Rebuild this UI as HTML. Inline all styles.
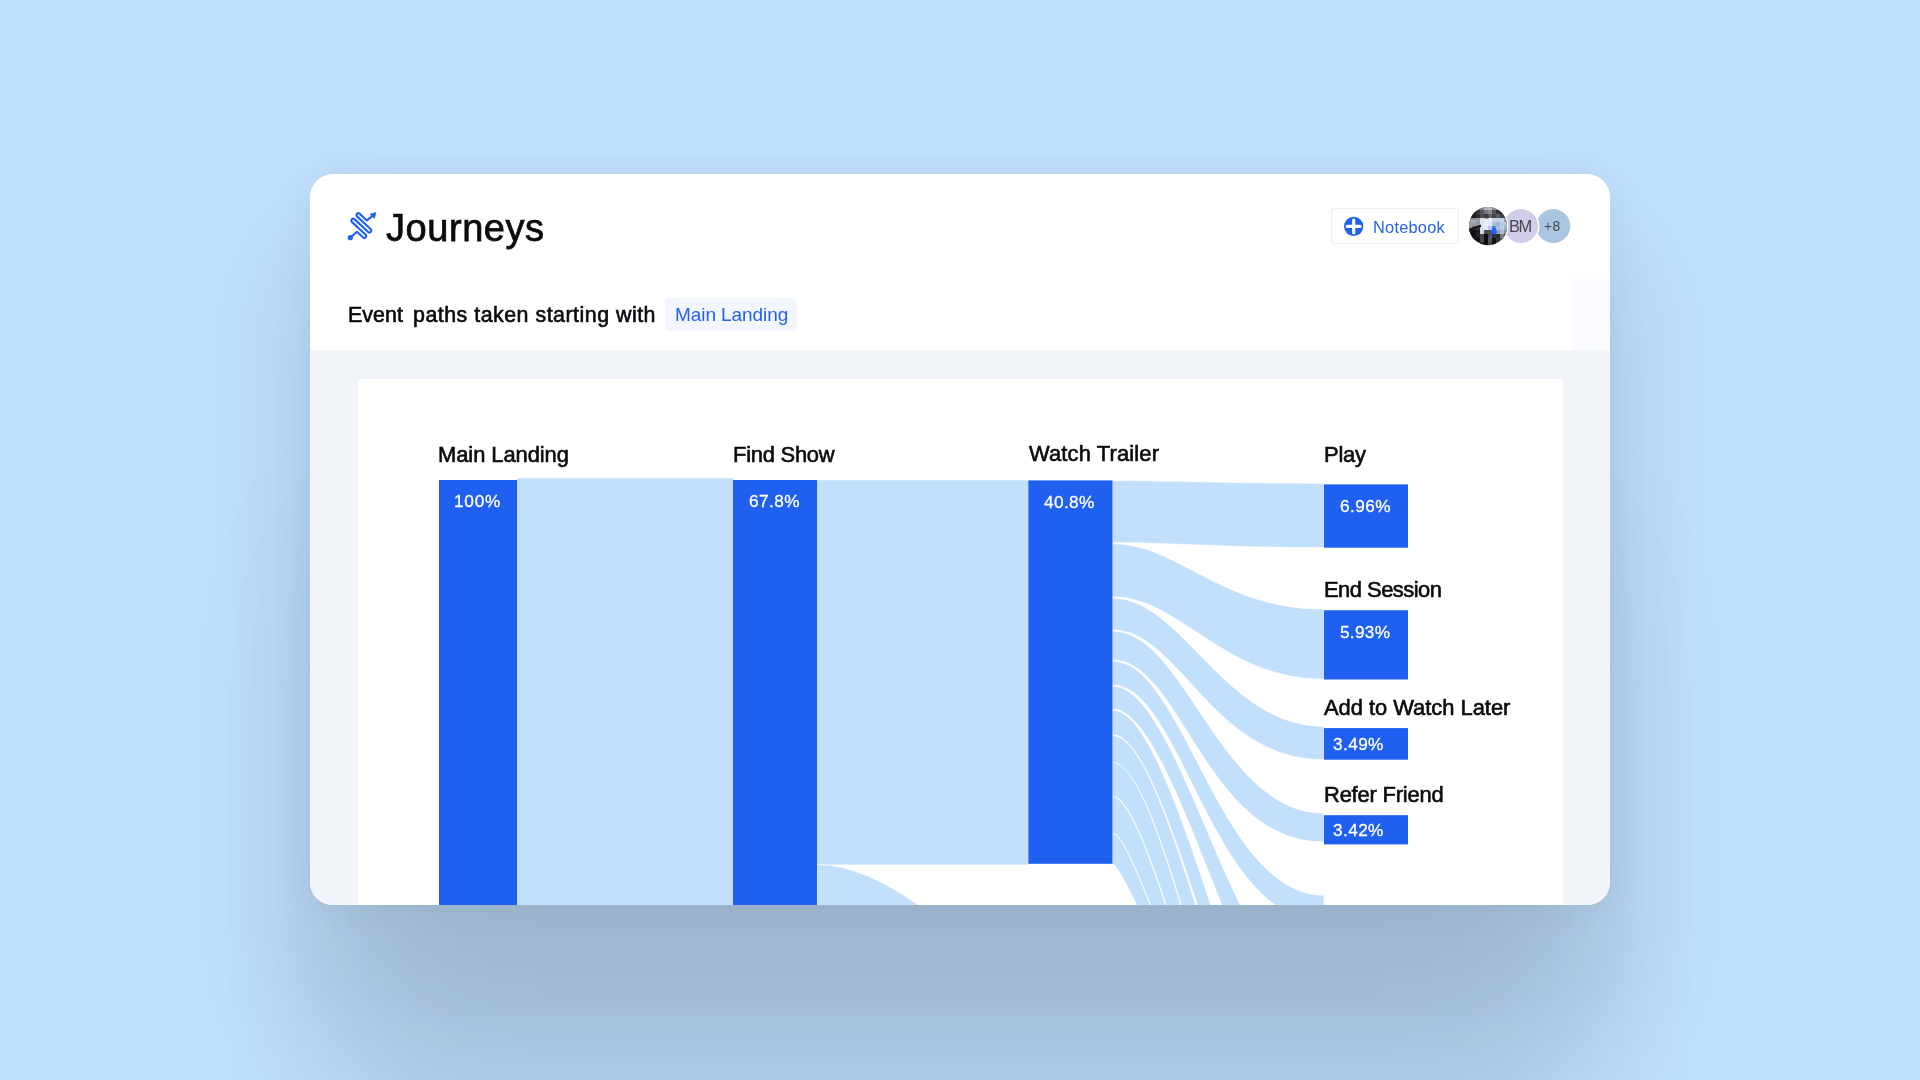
<!DOCTYPE html>
<html lang="en">
<head>
<meta charset="utf-8">
<title>Journeys</title>
<style>
html,body{margin:0;padding:0;}
body{width:1920px;height:1080px;overflow:hidden;position:relative;background:#c1e0fd;font-family:"Liberation Sans",sans-serif;}
.shadow{position:absolute;left:310px;top:174px;width:1300px;height:731.4px;border-radius:23px;
 box-shadow:0 325px 157px -37px rgba(0,0,0,.10),0 92px 105px 24px rgba(0,0,0,.09),0 0 43px 2px rgba(0,0,0,.05);}
.card{position:absolute;left:310px;top:174px;width:1300px;height:731.4px;border-radius:23px;overflow:hidden;background:#fff;}
.abs{position:absolute;left:-310px;top:-174px;width:1920px;height:1080px;}
.gray{position:absolute;left:310px;top:350px;width:1300px;height:600px;background:#f1f5fa;}
.panel{position:absolute;left:357.5px;top:379px;width:1205px;height:600px;background:#fff;}
.t{position:absolute;white-space:pre;line-height:1;color:#0a0a0f;will-change:transform;}
.m{-webkit-text-stroke:0.62px #0a0a0f;}
.h{-webkit-text-stroke:0.75px #0a0a0f;}
.w{color:#fff;-webkit-text-stroke:0.3px #fff;}
.b{color:#2563eb;}
.faint{position:absolute;left:1572.6px;top:279px;width:38px;height:71px;background:#fafbfe;}
.chip{position:absolute;left:665.2px;top:298.1px;width:131.7px;height:32.5px;border-radius:4px;background:#f3f6fc;}
.btn{position:absolute;left:1330.5px;top:207.9px;width:126.8px;height:34.6px;border:1px solid #e9eef9;border-radius:3px;box-sizing:content-box;}
svg{position:absolute;left:0;top:0;}
</style>
</head>
<body>
<div class="shadow"></div>
<div class="card"><div class="abs">
  <div class="gray"></div>
  <div class="panel"></div>

  <!-- header -->
  <svg width="1920" height="1080" viewBox="0 0 1920 1080">
    <g fill="none" stroke="#2060f0" stroke-width="2.1" stroke-linejoin="round" stroke-linecap="round">
      <path d="M350.3,237.7 L357.00,231.83 L363.14,237.56 A1.88,1.88 0 0 0 365.70,234.82 L351.81,221.86 A1.88,1.88 0 0 1 354.36,219.12 L368.26,232.07 A1.88,1.88 0 0 0 370.82,229.33 L356.92,216.37 A1.88,1.88 0 0 1 359.48,213.63 L366.79,220.45 L372.6,215.9"/>
    </g>
    <circle cx="350.3" cy="237.7" r="2.6" fill="#2060f0"/>
    <path d="M375.9,212.4 L369.9,214.2 L374.5,218.4 Z" fill="#2060f0" stroke="#2060f0" stroke-width="0.6" stroke-linejoin="round"/>
    <!-- plus icon -->
    <circle cx="1353.7" cy="226.4" r="9.6" fill="#2060f0"/>
    <path d="M1353.7,220 V232.8 M1347.3,226.4 H1360.1" stroke="#fff" stroke-width="3.2" stroke-linecap="round"/>
    <!-- avatars -->
    <circle cx="1553.3" cy="226.1" r="17" fill="#a9c6e0"/>
    <circle cx="1521" cy="226.1" r="18.5" fill="#fff"/>
    <circle cx="1521" cy="226.1" r="17" fill="#cfcde8"/>
    <circle cx="1488" cy="226.1" r="20.3" fill="#fff"/>
    <clipPath id="av"><circle cx="1488" cy="226.1" r="19.1"/></clipPath>
    <g clip-path="url(#av)">
      <rect x="1468" y="206" width="40" height="40" fill="#3c3c40"/>
      <rect x="1480" y="206" width="4.2" height="4.2" fill="#7d8086"/>
      <rect x="1484" y="206" width="4.2" height="4.2" fill="#a9b4c0"/>
      <rect x="1488" y="206" width="4.2" height="4.2" fill="#b4bfcc"/>
      <rect x="1492" y="206" width="4.2" height="4.2" fill="#8b8e94"/>
      <rect x="1472" y="210" width="4.2" height="4.2" fill="#2a2a2c"/>
      <rect x="1476" y="210" width="4.2" height="4.2" fill="#3a3a3c"/>
      <rect x="1480" y="210" width="4.2" height="4.2" fill="#55565a"/>
      <rect x="1484" y="210" width="4.2" height="4.2" fill="#77787c"/>
      <rect x="1488" y="210" width="4.2" height="4.2" fill="#8a8c90"/>
      <rect x="1492" y="210" width="4.2" height="4.2" fill="#57585c"/>
      <rect x="1496" y="210" width="4.2" height="4.2" fill="#343538"/>
      <rect x="1500" y="210" width="4.2" height="4.2" fill="#2a2a2c"/>
      <rect x="1468" y="214" width="4.2" height="4.2" fill="#222"/>
      <rect x="1472" y="214" width="4.2" height="4.2" fill="#1a1a1a"/>
      <rect x="1476" y="214" width="4.2" height="4.2" fill="#2c2c2e"/>
      <rect x="1480" y="214" width="4.2" height="4.2" fill="#4c4d50"/>
      <rect x="1484" y="214" width="4.2" height="4.2" fill="#3e3f42"/>
      <rect x="1488" y="214" width="4.2" height="4.2" fill="#68696d"/>
      <rect x="1492" y="214" width="4.2" height="4.2" fill="#454649"/>
      <rect x="1496" y="214" width="4.2" height="4.2" fill="#5a5b5f"/>
      <rect x="1500" y="214" width="4.2" height="4.2" fill="#3c3d40"/>
      <rect x="1504" y="214" width="4.2" height="4.2" fill="#555"/>
      <rect x="1468" y="218" width="4.2" height="4.2" fill="#98999c"/>
      <rect x="1472" y="218" width="4.2" height="4.2" fill="#8e8e90"/>
      <rect x="1476" y="218" width="4.2" height="4.2" fill="#9a9a9c"/>
      <rect x="1480" y="218" width="4.2" height="4.2" fill="#d5e3f2"/>
      <rect x="1484" y="218" width="4.2" height="4.2" fill="#e2ecf7"/>
      <rect x="1488" y="218" width="4.2" height="4.2" fill="#e6eef9"/>
      <rect x="1492" y="218" width="4.2" height="4.2" fill="#cfd3ea"/>
      <rect x="1496" y="218" width="4.2" height="4.2" fill="#b9cfe6"/>
      <rect x="1500" y="218" width="4.2" height="4.2" fill="#c5d5ea"/>
      <rect x="1504" y="218" width="4.2" height="4.2" fill="#9a9ca0"/>
      <rect x="1468" y="222" width="4.2" height="4.2" fill="#a0a2a6"/>
      <rect x="1472" y="222" width="4.2" height="4.2" fill="#9c9c9e"/>
      <rect x="1476" y="222" width="4.2" height="4.2" fill="#98999b"/>
      <rect x="1480" y="222" width="4.2" height="4.2" fill="#dbe7f5"/>
      <rect x="1484" y="222" width="4.2" height="4.2" fill="#e8f0fa"/>
      <rect x="1488" y="222" width="4.2" height="4.2" fill="#e0eaf6"/>
      <rect x="1492" y="222" width="4.2" height="4.2" fill="#a9c0d8"/>
      <rect x="1496" y="222" width="4.2" height="4.2" fill="#9eb8d2"/>
      <rect x="1500" y="222" width="4.2" height="4.2" fill="#b5cbe3"/>
      <rect x="1504" y="222" width="4.2" height="4.2" fill="#aac2dc"/>
      <rect x="1468" y="226" width="4.2" height="4.2" fill="#8f9093"/>
      <rect x="1472" y="226" width="4.2" height="4.2" fill="#6a6a6c"/>
      <rect x="1476" y="226" width="4.2" height="4.2" fill="#3a3a3c"/>
      <rect x="1480" y="226" width="4.2" height="4.2" fill="#d8e4f2"/>
      <rect x="1484" y="226" width="4.2" height="4.2" fill="#e1ebf7"/>
      <rect x="1488" y="226" width="4.2" height="4.2" fill="#b9cbea"/>
      <rect x="1492" y="226" width="4.2" height="4.2" fill="#5e8bea"/>
      <rect x="1496" y="226" width="4.2" height="4.2" fill="#a8c2dc"/>
      <rect x="1500" y="226" width="4.2" height="4.2" fill="#b9cde4"/>
      <rect x="1504" y="226" width="4.2" height="4.2" fill="#9fb4cc"/>
      <rect x="1468" y="230" width="4.2" height="4.2" fill="#0c0c0c"/>
      <rect x="1472" y="230" width="4.2" height="4.2" fill="#0e0e0e"/>
      <rect x="1476" y="230" width="4.2" height="4.2" fill="#1c1c1e"/>
      <rect x="1480" y="230" width="4.2" height="4.2" fill="#cddcec"/>
      <rect x="1484" y="230" width="4.2" height="4.2" fill="#4b4b4f"/>
      <rect x="1488" y="230" width="4.2" height="4.2" fill="#4f5054"/>
      <rect x="1492" y="230" width="4.2" height="4.2" fill="#2563eb"/>
      <rect x="1496" y="230" width="4.2" height="4.2" fill="#8fa6be"/>
      <rect x="1500" y="230" width="4.2" height="4.2" fill="#a9bdd4"/>
      <rect x="1504" y="230" width="4.2" height="4.2" fill="#88898d"/>
      <rect x="1468" y="234" width="4.2" height="4.2" fill="#0a0a0a"/>
      <rect x="1472" y="234" width="4.2" height="4.2" fill="#111"/>
      <rect x="1476" y="234" width="4.2" height="4.2" fill="#222224"/>
      <rect x="1480" y="234" width="4.2" height="4.2" fill="#444548"/>
      <rect x="1484" y="234" width="4.2" height="4.2" fill="#111"/>
      <rect x="1488" y="234" width="4.2" height="4.2" fill="#4a4a4e"/>
      <rect x="1492" y="234" width="4.2" height="4.2" fill="#333336"/>
      <rect x="1496" y="234" width="4.2" height="4.2" fill="#2a2a2c"/>
      <rect x="1500" y="234" width="4.2" height="4.2" fill="#77787c"/>
      <rect x="1504" y="234" width="4.2" height="4.2" fill="#333"/>
      <rect x="1472" y="238" width="4.2" height="4.2" fill="#0c0c0c"/>
      <rect x="1476" y="238" width="4.2" height="4.2" fill="#0e0e0e"/>
      <rect x="1480" y="238" width="4.2" height="4.2" fill="#444548"/>
      <rect x="1484" y="238" width="4.2" height="4.2" fill="#0c0c0c"/>
      <rect x="1488" y="238" width="4.2" height="4.2" fill="#55565a"/>
      <rect x="1492" y="238" width="4.2" height="4.2" fill="#111"/>
      <rect x="1496" y="238" width="4.2" height="4.2" fill="#333336"/>
      <rect x="1500" y="238" width="4.2" height="4.2" fill="#4a4b4f"/>
      <rect x="1480" y="242" width="4.2" height="4.2" fill="#2a2a2c"/>
      <rect x="1484" y="242" width="4.2" height="4.2" fill="#0c0c0c"/>
      <rect x="1488" y="242" width="4.2" height="4.2" fill="#4a4b4f"/>
      <rect x="1492" y="242" width="4.2" height="4.2" fill="#111"/>
      <path d="M1490.6,231.2 L1494,226.2 L1497.6,232.4 L1493.6,234.6 Z" fill="#2563eb"/>
      <rect x="1490" y="235" width="1.4" height="3.4" fill="#2f6be8"/>
      <path d="M1468,229 L1481,224.5 L1481,227 L1468,233 Z" fill="#1a1a1c"/>
      <rect x="1485" y="214.5" width="3.6" height="4" fill="#3a3b3e"/>
      <rect x="1471" y="220.5" width="5" height="1.3" fill="#a9c6e8"/>
    </g>
  </svg>
  <div class="btn"></div>
  <div class="faint"></div>
  <div class="chip"></div>
  <span class="t h" style="left:385.64px;top:209.0px;font-size:38.0px;letter-spacing:0.562px;">Journeys</span>
  <span class="t m" style="left:347.6px;top:305.06px;font-size:21.4px;letter-spacing:0.065px;">Event</span>
  <span class="t m" style="left:413.4px;top:305.06px;font-size:21.4px;letter-spacing:0.492px;">paths taken starting with</span>
  <span class="t b" style="left:674.52px;top:304.85px;font-size:19.0px;letter-spacing:-0.069px;">Main Landing</span>
  <span class="t b" style="left:1373.0px;top:218.76px;font-size:16.4px;letter-spacing:0.224px;">Notebook</span>
  <span class="t " style="left:1508.7px;top:217.66px;font-size:16.4px;letter-spacing:-1.45px;color:#48484c;">BM</span>
  <span class="t " style="left:1544.3px;top:219.87px;font-size:13.8px;letter-spacing:0.5px;color:#48484c;">+8</span>

  <!-- chart -->
  <svg width="1920" height="1080" viewBox="0 0 1920 1080">
    <g fill="#c2dffb">
      <rect x="516.9" y="478.2" width="216.4" height="440"/>
      <rect x="816" y="480.2" width="213" height="384.4"/>
    </g>
    <g fill="#c2dffb" stroke="#fff" stroke-width="0.7">
      <path d="M1112.50,480.60C1178.07,480.60 1220.37,483.20 1324.00,483.20L1324.00,547.60C1220.37,547.60 1178.07,542.70 1112.50,542.70Z"/>
      <path d="M1112.50,543.70C1178.07,543.70 1220.37,609.10 1324.00,609.10L1324.00,679.40C1223.22,679.40 1179.99,596.70 1112.50,596.70Z"/>
      <path d="M1112.50,598.00C1181.88,598.00 1224.52,726.40 1324.00,726.40L1324.00,759.70C1211.64,759.70 1179.94,630.00 1112.50,630.00Z"/>
      <path d="M1112.50,631.00C1185.23,631.00 1220.07,813.20 1324.00,813.20L1324.00,842.00C1205.24,842.00 1181.59,660.00 1112.50,660.00Z"/>
      <path d="M1112.50,661.00C1183.81,661.00 1218.91,895.30 1324.00,895.30L1324.00,921.74C1210.89,921.74 1182.09,685.00 1112.50,685.00Z"/>
      <path d="M1112.50,686.00C1181.64,686.00 1238.98,999.70 1324.00,999.70L1324.00,1057.82C1244.95,1057.82 1178.33,709.00 1112.50,709.00Z"/>
      <path d="M1112.50,710.00C1180.12,710.00 1253.50,1137.59 1324.00,1137.59L1324.00,1165.49C1246.50,1165.49 1173.99,734.50 1112.50,734.50Z"/>
      <path d="M1112.50,735.50C1176.32,735.50 1248.65,1191.33 1324.00,1191.33L1324.00,1251.67C1244.97,1251.67 1172.94,763.00 1112.50,763.00Z"/>
      <path d="M1112.50,762.60C1171.94,762.60 1242.50,1247.29 1324.00,1247.29L1324.00,1246.99C1239.89,1246.99 1158.20,796.50 1112.50,796.50Z"/>
      <path d="M1112.50,797.00C1157.61,797.00 1239.10,1247.28 1324.00,1247.28L1324.00,1168.53C1220.71,1168.53 1139.91,833.00 1112.50,833.00Z"/>
      <path d="M1112.50,833.50C1140.05,833.50 1220.76,1172.25 1324.00,1172.25L1324.00,1128.64C1222.64,1128.64 1126.12,863.90 1112.50,863.90Z"/>
      <path d="M817.00,864.60C910.02,864.60 1017.83,1000.40 1028.40,1000.40L1028.40,1200.00C1017.83,1200.00 910.02,1100.00 817.00,1100.00Z"/>
    </g>
    <g fill="#2060f0">
      <rect x="439" y="480" width="78" height="440"/>
      <rect x="733" y="480" width="84" height="440"/>
      <rect x="1028.4" y="480.4" width="84.1" height="383.4"/>
      <rect x="1324" y="484.4" width="84" height="63.3"/>
      <rect x="1324" y="610.2" width="84" height="69.3"/>
      <rect x="1324" y="728.1" width="84" height="31.6"/>
      <rect x="1324" y="815.2" width="84" height="29.2"/>
    </g>
  </svg>
  <span class="t m" style="left:438.13px;top:444.19px;font-size:21.9px;letter-spacing:-0.048px;">Main Landing</span>
  <span class="t m" style="left:732.73px;top:444.19px;font-size:21.9px;letter-spacing:-0.226px;">Find Show</span>
  <span class="t m" style="left:1028.51px;top:443.08px;font-size:21.9px;letter-spacing:0.151px;">Watch Trailer</span>
  <span class="t m" style="left:1323.93px;top:444.08px;font-size:21.9px;letter-spacing:-0.22px;">Play</span>
  <span class="t m" style="left:1323.93px;top:579.09px;font-size:21.9px;letter-spacing:-0.5px;">End Session</span>
  <span class="t m" style="left:1323.97px;top:696.78px;font-size:21.9px;letter-spacing:-0.014px;">Add to Watch Later</span>
  <span class="t m" style="left:1323.83px;top:783.68px;font-size:21.9px;letter-spacing:-0.183px;">Refer Friend</span>
  <span class="t w" style="left:453.64px;top:492.98px;font-size:17.2px;letter-spacing:0.778px;">100%</span>
  <span class="t w" style="left:749.13px;top:493.18px;font-size:17.2px;letter-spacing:0.426px;">67.8%</span>
  <span class="t w" style="left:1044.44px;top:493.58px;font-size:17.2px;letter-spacing:0.398px;">40.8%</span>
  <span class="t w" style="left:1339.93px;top:498.28px;font-size:17.2px;letter-spacing:0.426px;">6.96%</span>
  <span class="t w" style="left:1340.39px;top:623.88px;font-size:17.2px;letter-spacing:0.31px;">5.93%</span>
  <span class="t w" style="left:1333.19px;top:735.98px;font-size:17.2px;letter-spacing:0.412px;">3.49%</span>
  <span class="t w" style="left:1333.19px;top:821.88px;font-size:17.2px;letter-spacing:0.412px;">3.42%</span>
</div></div>
</body>
</html>
